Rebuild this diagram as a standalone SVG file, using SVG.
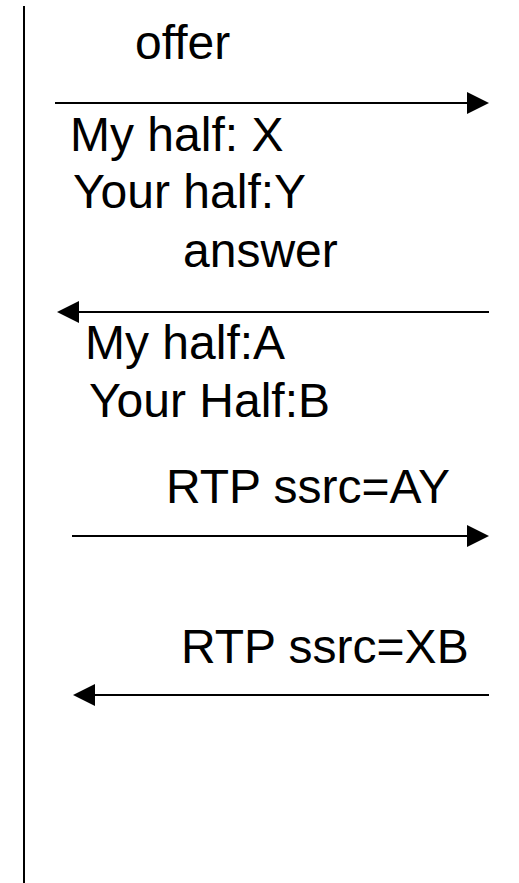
<svg xmlns="http://www.w3.org/2000/svg" width="519" height="883" viewBox="0 0 519 883">
<style>
text{font-family:"Liberation Sans",Arial,sans-serif;font-size:48px;fill:#000}
.ln{stroke:#000;stroke-width:2;fill:none}
.ah{fill:#000}
</style>
<rect width="519" height="883" fill="#fff"/>
<g id="lifeline"><line class="ln" x1="24" y1="6" x2="24" y2="883"/></g>
<g id="connectors">
<line class="ln" x1="55" y1="103" x2="470" y2="103"/>
<polygon class="ah" points="467,92 489,103 467,114"/>
<line class="ln" x1="489" y1="312" x2="75" y2="312"/>
<polygon class="ah" points="79,301 57,312 79,323"/>
<line class="ln" x1="72" y1="536" x2="470" y2="536"/>
<polygon class="ah" points="467,525 489,536 467,547"/>
<line class="ln" x1="489" y1="695" x2="90" y2="695"/>
<polygon class="ah" points="95,684 73,695 95,706"/>
</g>
<g id="labels">
<text x="135" y="59">offer</text>
<text x="70" y="151">My half: X</text>
<text x="73" y="208">Your half:Y</text>
<text x="183" y="267">answer</text>
<text x="85" y="359">My half:A</text>
<text x="89" y="417">Your Half:B</text>
<text x="166" y="503">RTP ssrc=AY</text>
<text x="181" y="663">RTP ssrc=XB</text>
</g>
</svg>
